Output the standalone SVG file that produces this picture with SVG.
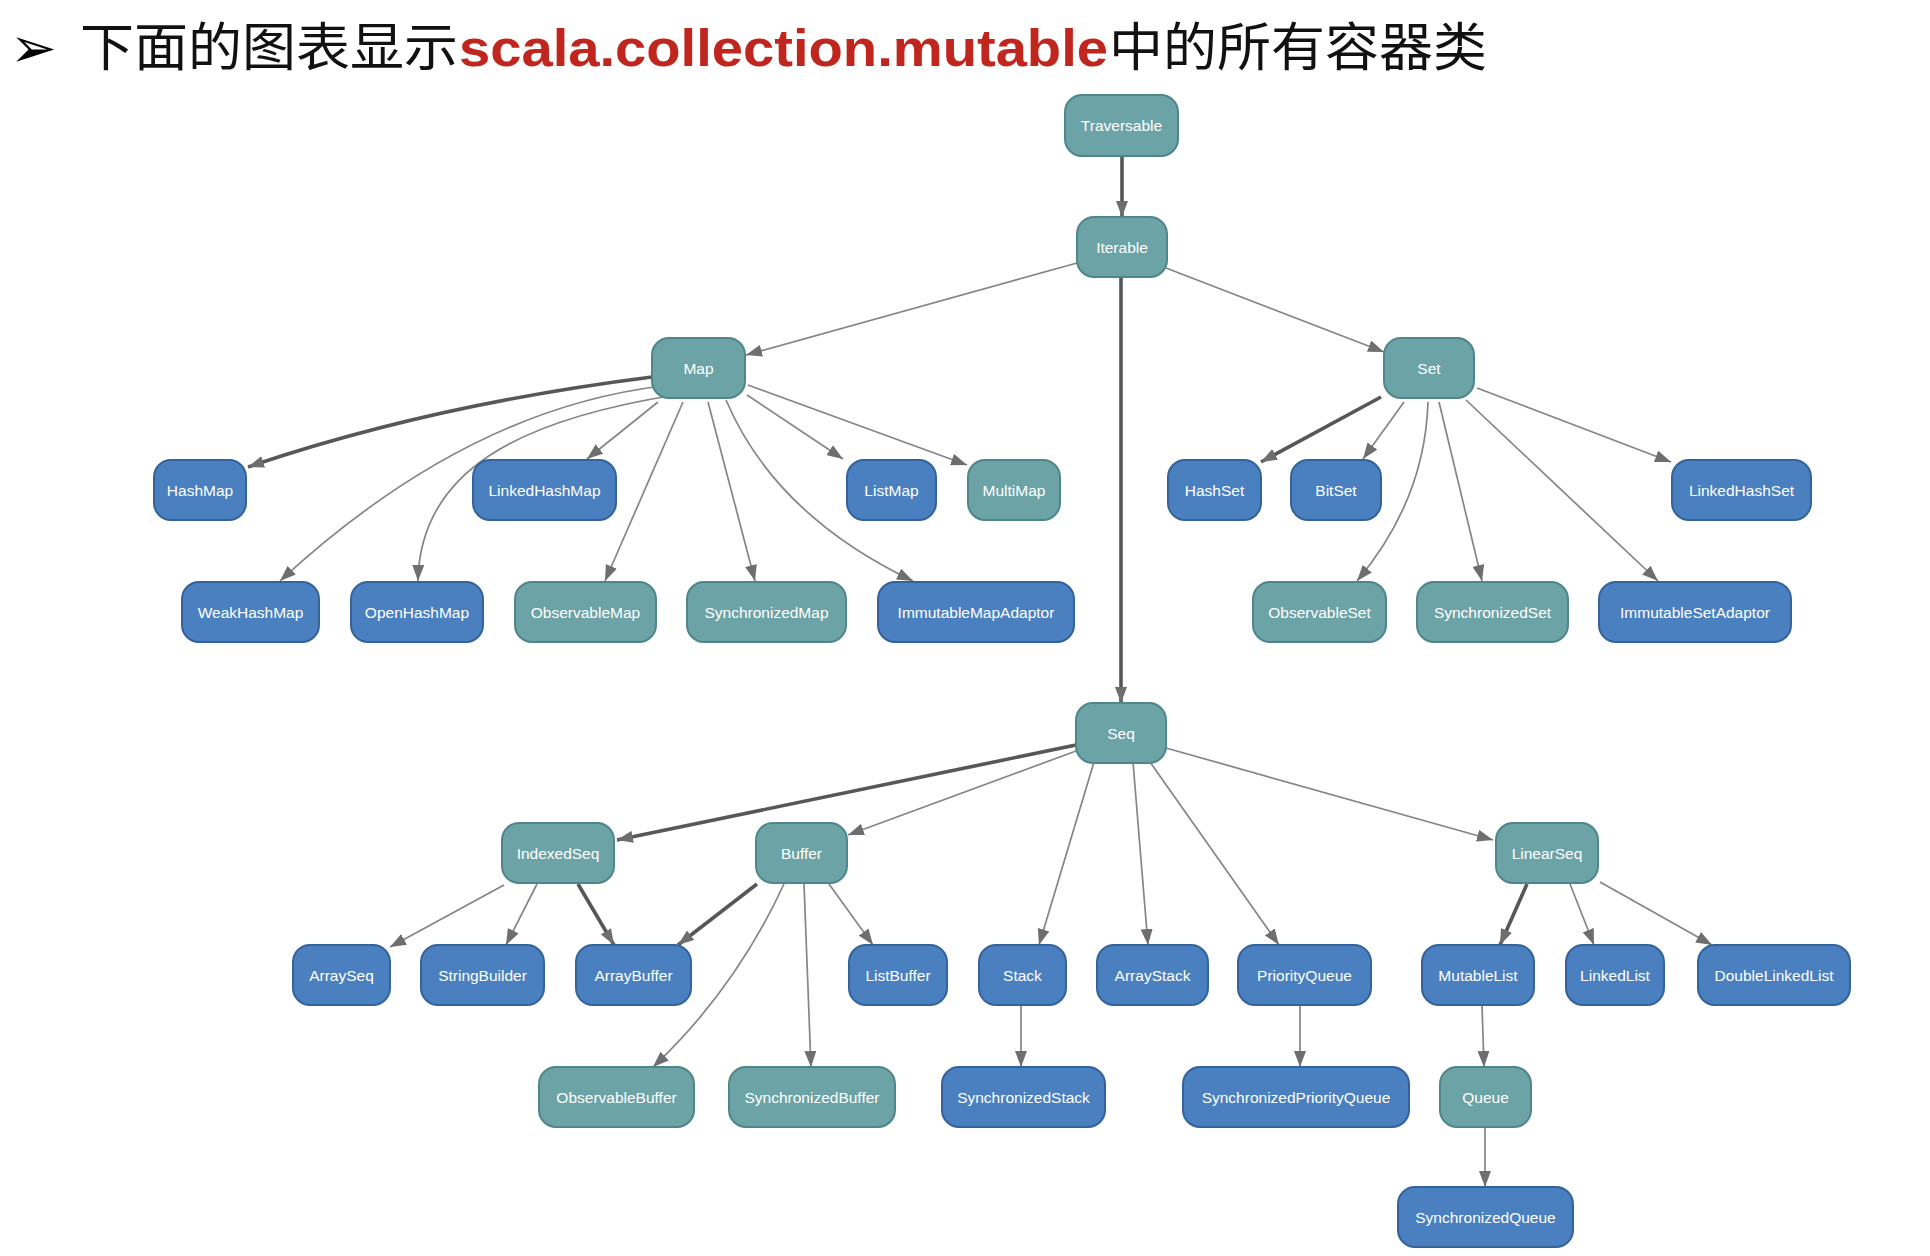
<svg xmlns="http://www.w3.org/2000/svg" width="1930" height="1256" viewBox="0 0 1930 1256">
<style>
.n rect{stroke-width:2}
.t rect{fill:#6ca3a6;stroke:#4f8689}
.b rect{fill:#4a80bf;stroke:#34639b}
.n text{font-family:"Liberation Sans",Arial,sans-serif;font-size:15.5px;fill:#fff;text-anchor:middle}
.e path{fill:none}
.thin{stroke:#858585;stroke-width:1.7}
.thick{stroke:#575757;stroke-width:3.6}
.title{font-family:"Noto Sans CJK SC","Noto Sans",sans-serif;font-size:52px;fill:#111}
.red{font-family:"Liberation Sans","Noto Sans",sans-serif;font-size:52px;font-weight:bold;fill:#c0261e}
</style>
<defs>
<marker id="ah" markerUnits="userSpaceOnUse" markerWidth="17" markerHeight="12" refX="16" refY="6" orient="auto">
<path d="M0,0 L16,6 L0,12 Z" fill="#6e6e6e"/>
</marker>
</defs>
<rect width="1930" height="1256" fill="#fff"/>
<g id="title">
<text x="10" y="67" font-family="DejaVu Sans,sans-serif" font-size="56" font-weight="bold" fill="#000">➢</text>
<text class="title" x="80" y="66" textLength="378" lengthAdjust="spacingAndGlyphs">下面的图表显示</text>
<text class="red" x="459" y="66" textLength="649" lengthAdjust="spacingAndGlyphs">scala.collection.mutable</text>
<text class="title" x="1109" y="66" textLength="378" lengthAdjust="spacingAndGlyphs">中的所有容器类</text>
</g>
<g id="edges" class="e">
<path class="thick" marker-end="url(#ah)" d="M1122,156 L1122,217"/>
<path class="thin" marker-end="url(#ah)" d="M1077,263 L746,355"/>
<path class="thin" marker-end="url(#ah)" d="M1166,268 L1384,352"/>
<path class="thick" marker-end="url(#ah)" d="M1121,277 L1121,703"/>
<path class="thick" marker-end="url(#ah)" d="M652,377 Q430,405 248,467"/>
<path class="thin" marker-end="url(#ah)" d="M662,386 Q465,410 280,581"/>
<path class="thin" marker-end="url(#ah)" d="M675,395 C520,420 420,470 418,581"/>
<path class="thin" marker-end="url(#ah)" d="M658,402 L587,459"/>
<path class="thin" marker-end="url(#ah)" d="M683,402 L605,581"/>
<path class="thin" marker-end="url(#ah)" d="M708,402 L755,581"/>
<path class="thin" marker-end="url(#ah)" d="M726,400 Q775,515 913,581"/>
<path class="thin" marker-end="url(#ah)" d="M747,395 L843,459"/>
<path class="thin" marker-end="url(#ah)" d="M748,385 L967,465"/>
<path class="thick" marker-end="url(#ah)" d="M1381,397 L1261,462"/>
<path class="thin" marker-end="url(#ah)" d="M1404,402 L1363,459"/>
<path class="thin" marker-end="url(#ah)" d="M1428,402 Q1425,500 1357,581"/>
<path class="thin" marker-end="url(#ah)" d="M1439,402 L1482,581"/>
<path class="thin" marker-end="url(#ah)" d="M1466,400 L1658,581"/>
<path class="thin" marker-end="url(#ah)" d="M1477,388 L1671,462"/>
<path class="thick" marker-end="url(#ah)" d="M1076,745 L617,840"/>
<path class="thin" marker-end="url(#ah)" d="M1076,751 L848,835"/>
<path class="thin" marker-end="url(#ah)" d="M1094,762 L1039,945"/>
<path class="thin" marker-end="url(#ah)" d="M1133,762 L1148,945"/>
<path class="thin" marker-end="url(#ah)" d="M1150,762 L1279,945"/>
<path class="thin" marker-end="url(#ah)" d="M1166,748 L1493,840"/>
<path class="thin" marker-end="url(#ah)" d="M504,885 L390,947"/>
<path class="thin" marker-end="url(#ah)" d="M537,884 L506,945"/>
<path class="thick" marker-end="url(#ah)" d="M578,884 L614,945"/>
<path class="thick" marker-end="url(#ah)" d="M757,884 L678,945"/>
<path class="thin" marker-end="url(#ah)" d="M784,884 Q735,990 653,1067"/>
<path class="thin" marker-end="url(#ah)" d="M804,884 L811,1067"/>
<path class="thin" marker-end="url(#ah)" d="M829,884 L873,945"/>
<path class="thin" marker-end="url(#ah)" d="M1021,1005 L1021,1067"/>
<path class="thin" marker-end="url(#ah)" d="M1300,1005 L1300,1067"/>
<path class="thick" marker-end="url(#ah)" d="M1527,884 L1500,945"/>
<path class="thin" marker-end="url(#ah)" d="M1570,884 L1594,945"/>
<path class="thin" marker-end="url(#ah)" d="M1600,882 L1712,945"/>
<path class="thin" marker-end="url(#ah)" d="M1482,1005 L1484,1067"/>
<path class="thin" marker-end="url(#ah)" d="M1485,1127 L1485,1187"/>
</g>
<g id="Traversable" class="n t"><rect x="1065" y="95" width="113" height="61" rx="17"/><text x="1121.5" y="131">Traversable</text></g>
<g id="Iterable" class="n t"><rect x="1077" y="217" width="90" height="60" rx="17"/><text x="1122" y="252.5">Iterable</text></g>
<g id="Map" class="n t"><rect x="652" y="338" width="93" height="60" rx="17"/><text x="698.5" y="373.5">Map</text></g>
<g id="Set" class="n t"><rect x="1384" y="338" width="90" height="60" rx="17"/><text x="1429" y="373.5">Set</text></g>
<g id="HashMap" class="n b"><rect x="154" y="460" width="92" height="60" rx="17"/><text x="200" y="495.5">HashMap</text></g>
<g id="LinkedHashMap" class="n b"><rect x="473" y="460" width="143" height="60" rx="17"/><text x="544.5" y="495.5">LinkedHashMap</text></g>
<g id="ListMap" class="n b"><rect x="847" y="460" width="89" height="60" rx="17"/><text x="891.5" y="495.5">ListMap</text></g>
<g id="MultiMap" class="n t"><rect x="968" y="460" width="92" height="60" rx="17"/><text x="1014" y="495.5">MultiMap</text></g>
<g id="HashSet" class="n b"><rect x="1168" y="460" width="93" height="60" rx="17"/><text x="1214.5" y="495.5">HashSet</text></g>
<g id="BitSet" class="n b"><rect x="1291" y="460" width="90" height="60" rx="17"/><text x="1336" y="495.5">BitSet</text></g>
<g id="LinkedHashSet" class="n b"><rect x="1672" y="460" width="139" height="60" rx="17"/><text x="1741.5" y="495.5">LinkedHashSet</text></g>
<g id="WeakHashMap" class="n b"><rect x="182" y="582" width="137" height="60" rx="17"/><text x="250.5" y="617.5">WeakHashMap</text></g>
<g id="OpenHashMap" class="n b"><rect x="351" y="582" width="132" height="60" rx="17"/><text x="417" y="617.5">OpenHashMap</text></g>
<g id="ObservableMap" class="n t"><rect x="515" y="582" width="141" height="60" rx="17"/><text x="585.5" y="617.5">ObservableMap</text></g>
<g id="SynchronizedMap" class="n t"><rect x="687" y="582" width="159" height="60" rx="17"/><text x="766.5" y="617.5">SynchronizedMap</text></g>
<g id="ImmutableMapAdaptor" class="n b"><rect x="878" y="582" width="196" height="60" rx="17"/><text x="976" y="617.5">ImmutableMapAdaptor</text></g>
<g id="ObservableSet" class="n t"><rect x="1253" y="582" width="133" height="60" rx="17"/><text x="1319.5" y="617.5">ObservableSet</text></g>
<g id="SynchronizedSet" class="n t"><rect x="1417" y="582" width="151" height="60" rx="17"/><text x="1492.5" y="617.5">SynchronizedSet</text></g>
<g id="ImmutableSetAdaptor" class="n b"><rect x="1599" y="582" width="192" height="60" rx="17"/><text x="1695" y="617.5">ImmutableSetAdaptor</text></g>
<g id="Seq" class="n t"><rect x="1076" y="703" width="90" height="60" rx="17"/><text x="1121" y="738.5">Seq</text></g>
<g id="IndexedSeq" class="n t"><rect x="502" y="823" width="112" height="60" rx="17"/><text x="558" y="858.5">IndexedSeq</text></g>
<g id="Buffer" class="n t"><rect x="756" y="823" width="91" height="60" rx="17"/><text x="801.5" y="858.5">Buffer</text></g>
<g id="LinearSeq" class="n t"><rect x="1496" y="823" width="102" height="60" rx="17"/><text x="1547" y="858.5">LinearSeq</text></g>
<g id="ArraySeq" class="n b"><rect x="293" y="945" width="97" height="60" rx="17"/><text x="341.5" y="980.5">ArraySeq</text></g>
<g id="StringBuilder" class="n b"><rect x="421" y="945" width="123" height="60" rx="17"/><text x="482.5" y="980.5">StringBuilder</text></g>
<g id="ArrayBuffer" class="n b"><rect x="576" y="945" width="115" height="60" rx="17"/><text x="633.5" y="980.5">ArrayBuffer</text></g>
<g id="ListBuffer" class="n b"><rect x="849" y="945" width="98" height="60" rx="17"/><text x="898" y="980.5">ListBuffer</text></g>
<g id="Stack" class="n b"><rect x="979" y="945" width="87" height="60" rx="17"/><text x="1022.5" y="980.5">Stack</text></g>
<g id="ArrayStack" class="n b"><rect x="1097" y="945" width="111" height="60" rx="17"/><text x="1152.5" y="980.5">ArrayStack</text></g>
<g id="PriorityQueue" class="n b"><rect x="1238" y="945" width="133" height="60" rx="17"/><text x="1304.5" y="980.5">PriorityQueue</text></g>
<g id="MutableList" class="n b"><rect x="1422" y="945" width="112" height="60" rx="17"/><text x="1478" y="980.5">MutableList</text></g>
<g id="LinkedList" class="n b"><rect x="1566" y="945" width="98" height="60" rx="17"/><text x="1615" y="980.5">LinkedList</text></g>
<g id="DoubleLinkedList" class="n b"><rect x="1698" y="945" width="152" height="60" rx="17"/><text x="1774" y="980.5">DoubleLinkedList</text></g>
<g id="ObservableBuffer" class="n t"><rect x="539" y="1067" width="155" height="60" rx="17"/><text x="616.5" y="1102.5">ObservableBuffer</text></g>
<g id="SynchronizedBuffer" class="n t"><rect x="729" y="1067" width="166" height="60" rx="17"/><text x="812" y="1102.5">SynchronizedBuffer</text></g>
<g id="SynchronizedStack" class="n b"><rect x="942" y="1067" width="163" height="60" rx="17"/><text x="1023.5" y="1102.5">SynchronizedStack</text></g>
<g id="SynchronizedPriorityQueue" class="n b"><rect x="1183" y="1067" width="226" height="60" rx="17"/><text x="1296" y="1102.5">SynchronizedPriorityQueue</text></g>
<g id="Queue" class="n t"><rect x="1440" y="1067" width="91" height="60" rx="17"/><text x="1485.5" y="1102.5">Queue</text></g>
<g id="SynchronizedQueue" class="n b"><rect x="1398" y="1187" width="175" height="60" rx="17"/><text x="1485.5" y="1222.5">SynchronizedQueue</text></g>
</svg>
